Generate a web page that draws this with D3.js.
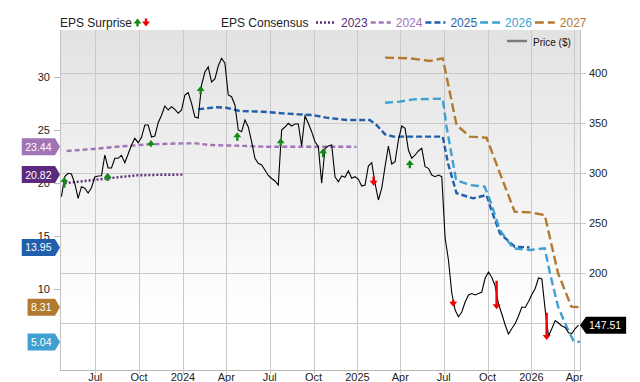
<!DOCTYPE html>
<html><head><meta charset="utf-8">
<script src="https://cdn.jsdelivr.net/npm/d3@7"></script>
<style>
html,body{margin:0;padding:0;background:#fff;}
svg{display:block;font-family:"Liberation Sans",Arial,sans-serif;}
</style></head>
<body><svg id="c" width="640" height="382"></svg>
<script>
// ---------------- DATA ----------------
const priceStart = "2023-04-21"; // weekly closes
const priceValues = [
276.0,296.1,299.4,298.7,289.4,274.4,286.0,284.4,279.7,285.0,
295.7,296.7,296.9,317.7,304.7,304.7,314.4,314.4,317.4,310.0,
318.7,327.7,334.4,330.0,335.4,347.7,347.7,335.7,336.7,350.0,
357.4,366.7,362.7,366.0,363.4,359.4,362.7,377.7,380.0,369.4,
355.7,354.7,387.7,400.7,405.7,390.7,393.7,406.7,414.4,409.4,
377.7,376.0,367.7,342.7,341.0,352.7,345.7,331.0,314.4,309.4,
307.7,302.7,297.2,294.2,291.7,287.7,342.7,345.7,349.4,346.7,
348.7,348.7,326.7,356.7,349.4,341.0,331.0,326.0,289.4,324.4,
326.7,327.7,296.0,291.0,296.7,295.4,302.0,294.4,296.0,293.4,
286.7,287.7,306.7,310.0,289.4,272.7,284.4,306.0,326.7,308.7,
311.0,332.7,346.7,344.4,322.7,314.4,317.7,321.7,324.4,306.0,
304.4,297.7,296.0,297.7,296.0,234.7,212.7,179.7,162.7,156.0,
160.7,170.7,177.7,179.2,177.7,179.2,180.7,194.7,200.7,195.2,
186.7,168.7,158.7,147.7,138.7,144.2,149.2,156.7,165.7,165.2,
171.2,178.2,184.2,194.7,193.7,162.7,136.7,144.2,152.2,149.7,
146.7,145.2,140.0,139.2,144.2,147.51
];

const years = ["2023","2024","2025","2026","2027"];
const eps2023Dates = ["2023-04-28","2023-06-27","2023-08-15","2023-09-26","2023-11-14","2024-01-01"];
const eps2023Vals  = [20.00,20.31,20.56,20.75,20.80,20.82];
const eps2024Dates = ["2023-05-02","2023-06-27","2023-08-15","2023-10-24","2024-01-01","2024-01-29","2024-02-26","2024-04-22","2024-06-24","2024-08-31","2024-12-30"];
const eps2024Vals  = [23.05,23.24,23.45,23.68,23.77,23.77,23.61,23.55,23.45,23.45,23.44];
const eps2025Dates = ["2024-02-02","2024-03-11","2024-04-01","2024-04-29","2024-06-17","2024-07-29","2024-08-31","2024-09-30","2024-10-28","2024-12-09","2025-01-27","2025-02-10","2025-02-28","2025-03-18","2025-06-29","2025-07-10","2025-07-28","2025-09-01","2025-09-29","2025-10-09","2025-10-27","2025-11-27","2025-12-28"];
const eps2025Vals  = [26.98,27.17,27.13,26.82,26.75,26.60,26.50,26.44,26.19,25.97,25.97,25.50,24.62,24.40,24.40,21.89,19.06,18.58,18.90,17.48,15.28,14.02,13.95];
const eps2026Dates = ["2025-02-28","2025-03-31","2025-04-28","2025-06-29","2025-07-07","2025-07-27","2025-08-25","2025-09-25","2025-10-06","2025-10-27","2025-11-24","2025-12-29","2026-01-29","2026-02-09","2026-02-26","2026-03-16","2026-03-31","2026-04-13"];
const eps2026Vals  = [27.60,27.70,27.92,27.98,25.34,20.31,19.84,19.68,18.42,15.58,13.87,13.71,13.87,11.51,8.36,6.47,5.06,5.04];
const eps2027Dates = ["2025-02-28","2025-04-21","2025-06-02","2025-06-29","2025-07-28","2025-08-25","2025-09-29","2025-10-27","2025-11-27","2025-12-29","2026-01-29","2026-02-26","2026-03-26","2026-04-13"];
const eps2027Vals  = [31.85,31.79,31.54,31.79,25.50,24.40,24.30,20.94,17.32,17.26,17.01,11.51,8.36,8.31];
const epsLastLabels = ["23.44","20.82","13.95","8.31","5.04"]; // flags
const epsLastValues = [23.44,20.82,13.95,8.31,5.04];
const epsLastYears  = ["2024","2023","2025","2027","2026"];

const arrowDates = ["2023-04-27","2023-07-27","2023-10-26","2024-02-07","2024-04-24","2024-07-24","2024-10-21","2025-02-04","2025-04-21","2025-07-21","2025-10-20","2026-02-02"];
const arrowDir   = ["up","up","up","up","up","up","up","down","up","down","down","down"];
const arrowTail  = [285.0,291.7,326.0,378.4,332.0,326.7,315.4,296.0,304.4,172.7,192.0,160.0];
const arrowTip   = [295.7,300.0,332.7,386.7,340.4,334.4,324.4,287.0,312.7,166.0,163.4,132.7];

const priceTicks = [150,200,250,300,350,400];
const priceTickLabels = ["","200","250","300","350","400"]; // 150 hidden under price flag
const epsTicks = [5,10,15,20,25,30];
const epsTickLabels = ["","10","15","20","25","30"]; // 5 hidden under flag
const lastPriceLabel = "147.51";

// ---------------- STYLE ----------------
const colors = {"2023":"#5b2a7c","2024":"#a174b6","2025":"#1f5fab","2026":"#3ea0d0","2027":"#b17a2e"};
const dashes = {"2023":"2,2","2024":"5,3","2025":"6,3","2026":"8,4","2027":"9,4"};
const L=60,R=580,T=30,B=370;
const parse = d3.timeParse("%Y-%m-%d");
const svg = d3.select("#c");
const defs = svg.append("defs");
const grad = defs.append("linearGradient").attr("id","bg").attr("x1",0).attr("y1",0).attr("x2",0).attr("y2",1);
grad.append("stop").attr("offset","0%").attr("stop-color","#e2e2e2");
grad.append("stop").attr("offset","85%").attr("stop-color","#ffffff");
grad.append("stop").attr("offset","100%").attr("stop-color","#ffffff");

const x = d3.scaleTime().domain([parse("2023-04-18"),parse("2026-04-13")]).range([L,R]);
const yP = d3.scaleLinear().domain([102.7,442.7]).range([B,T]);
const yE = d3.scaleLinear().domain([2.39,34.46]).range([B,T]);

svg.append("rect").attr("x",L).attr("y",T).attr("width",R-L).attr("height",B-T).attr("fill","url(#bg)");

// grid
const xt = x.ticks(d3.timeMonth.every(3));
svg.append("g").selectAll("line").data(xt).join("line")
  .attr("x1",d=>Math.round(x(d))+0.5).attr("x2",d=>Math.round(x(d))+0.5).attr("y1",T).attr("y2",B+4)
  .attr("stroke","#c9c9c9");
svg.append("g").selectAll("line").data(priceTicks).join("line")
  .attr("x1",L).attr("x2",R+6).attr("y1",d=>Math.round(yP(d))+0.5).attr("y2",d=>Math.round(yP(d))+0.5)
  .attr("stroke","#c9c9c9");
// frame
svg.append("line").attr("x1",L+0.5).attr("x2",L+0.5).attr("y1",T).attr("y2",B).attr("stroke","#c2c2c2");
svg.append("line").attr("x1",R+0.5).attr("x2",R+0.5).attr("y1",T).attr("y2",B).attr("stroke","#c2c2c2");
svg.append("line").attr("x1",L).attr("x2",R+1).attr("y1",B+0.5).attr("y2",B+0.5).attr("stroke","#b8b8b8");

// right axis labels
svg.append("g").selectAll("text").data(priceTicks).join("text")
  .attr("x",R+9).attr("y",d=>yP(d)+4).attr("font-size",11).attr("fill","#222").text((d,i)=>priceTickLabels[i]);
// left axis
svg.append("g").selectAll("line").data(epsTicks).join("line")
  .attr("x1",L-6).attr("x2",L).attr("y1",d=>Math.round(yE(d))+0.5).attr("y2",d=>Math.round(yE(d))+0.5).attr("stroke","#bbb");
svg.append("g").selectAll("text").data(epsTicks).join("text")
  .attr("x",L-10).attr("y",d=>yE(d)+4).attr("text-anchor","end").attr("font-size",11).attr("fill","#222").text((d,i)=>epsTickLabels[i]);
// bottom axis labels
const fmt = d => d.getMonth()===0 ? d3.timeFormat("%Y")(d) : d3.timeFormat("%b")(d);
svg.append("g").selectAll("text").data(xt).join("text")
  .attr("x",d=>x(d)).attr("y",B+11).attr("text-anchor","middle").attr("font-size",11).attr("fill","#222").text(fmt);

// EPS lines
const epsSeries = {
  "2023":[eps2023Dates,eps2023Vals],"2024":[eps2024Dates,eps2024Vals],
  "2025":[eps2025Dates,eps2025Vals],"2026":[eps2026Dates,eps2026Vals],"2027":[eps2027Dates,eps2027Vals]};
const lineE = d3.line().x(d=>x(d[0])).y(d=>yE(d[1]));
years.forEach(yr=>{
  const [ds,vs]=epsSeries[yr];
  const pts = ds.map((d,i)=>[parse(d),vs[i]]);
  svg.append("path").attr("d",lineE(pts)).attr("fill","none").attr("stroke",colors[yr])
    .attr("stroke-width",2.4).attr("stroke-dasharray",dashes[yr]);
});

// price line
const p0 = parse(priceStart);
const pricePts = priceValues.map((v,i)=>[d3.timeDay.offset(p0,7*i),v]);
svg.append("path").attr("d",d3.line().x(d=>x(d[0])).y(d=>yP(d[1]))(pricePts))
  .attr("fill","none").attr("stroke","#000").attr("stroke-width",1.1);

// arrows
function arrowPath(cx,y0,y1){ // tail y0 -> tip y1
  const dir = y1<y0 ? -1 : 1; const hl=5, hw=4, sw=1.2;
  const hb = y1 - dir*hl;
  return `M${cx-sw},${y0}L${cx-sw},${hb}L${cx-hw},${hb}L${cx},${y1}L${cx+hw},${hb}L${cx+sw},${hb}L${cx+sw},${y0}Z`;
}
svg.append("g").selectAll("path").data(arrowDates).join("path")
  .attr("d",(d,i)=>arrowPath(x(parse(d)),yP(arrowTail[i]),yP(arrowTip[i])))
  .attr("fill",(d,i)=>arrowDir[i]==="up"?"#138a13":"#f00000");

// left flags
const fl = svg.append("g");
epsLastValues.forEach((v,i)=>{
  const yy = yE(v);
  const t = fl.append("text").attr("font-size",10.5).attr("fill","#fff").text(epsLastLabels[i]);
  const w = t.node().getComputedTextLength();
  const x0 = L-5-w-7;
  fl.insert("path","text").attr("d",`M${x0},${yy-8.5}L${L-5},${yy-8.5}L${L},${yy}L${L-5},${yy+8.5}L${x0},${yy+8.5}Z`)
    .attr("fill",colors[epsLastYears[i]]);
  t.attr("x",x0+3.5).attr("y",yy+4);
});
// right price flag
{
  const yy = yP(priceValues[priceValues.length-1]);
  const g = svg.append("g");
  const t = g.append("text").attr("font-size",10.5).attr("fill","#fff").text(lastPriceLabel);
  const w = t.node().getComputedTextLength();
  g.insert("path","text").attr("d",`M${R},${yy}L${R+6},${yy-8.5}L${R+6+w+8},${yy-8.5}L${R+6+w+8},${yy+8.5}L${R+6},${yy+8.5}Z`).attr("fill","#000");
  t.attr("x",R+9).attr("y",yy+4);
}

// legend
const lg = svg.append("g").attr("font-size",12);
lg.append("text").attr("x",L).attr("y",27).attr("fill","#222").text("EPS Surprise");
lg.append("path").attr("d",arrowPath(137.5,26.5,18.5)).attr("fill","#138a13");
lg.append("path").attr("d",arrowPath(146,18.5,26.5)).attr("fill","#f00000");
lg.append("text").attr("x",221).attr("y",27).attr("fill","#222").text("EPS Consensus");
let cx = 316;
years.forEach(yr=>{
  lg.append("line").attr("x1",cx).attr("x2",cx+20).attr("y1",22.5).attr("y2",22.5)
    .attr("stroke",colors[yr]).attr("stroke-width",2.4).attr("stroke-dasharray",dashes[yr]);
  cx += 25;
  const t = lg.append("text").attr("x",cx).attr("y",27).attr("fill",colors[yr]).text(yr);
  cx += t.node().getComputedTextLength()+3;
});
svg.append("line").attr("x1",507).attr("x2",527).attr("y1",41).attr("y2",41).attr("stroke","#7a7a7a").attr("stroke-width",2.5);
svg.append("text").attr("x",533).attr("y",45.5).attr("font-size",10).attr("fill","#111").text("Price ($)");
</script></body></html>
